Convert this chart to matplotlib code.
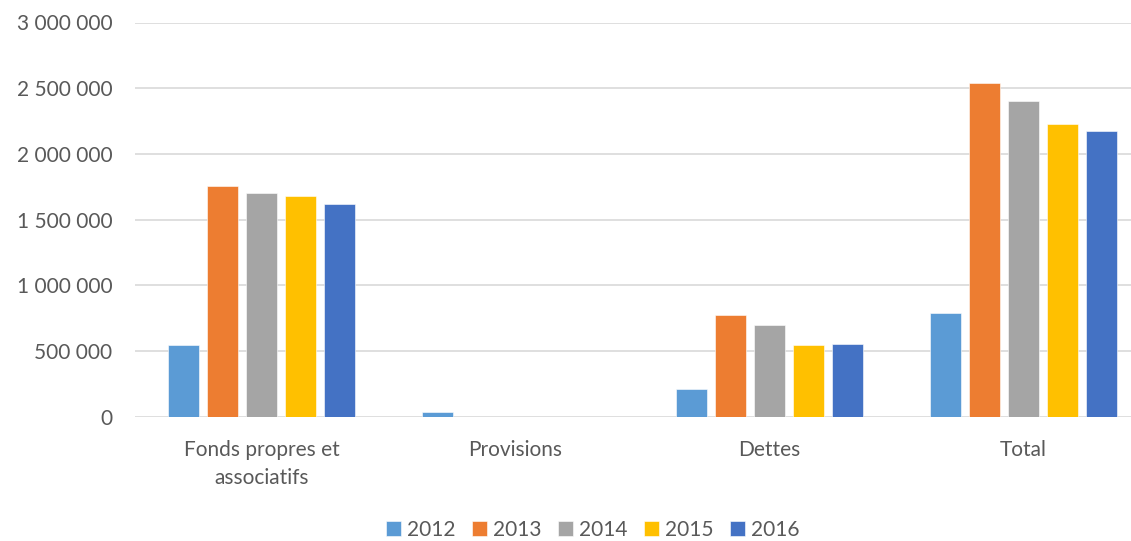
import numpy as np
import matplotlib.pyplot as plt
from matplotlib.ticker import FuncFormatter

# Data
categories = ["Fonds propres et\nassociatifs", "Provisions", "Dettes", "Total"]
years = ["2012", "2013", "2014", "2015", "2016"]
v2012 = [546000, 33000, 208000, 789000]
v2013 = [1758000, 0, 774000, 2537000]
v2014 = [1705000, 0, 695000, 2402000]
v2015 = [1677000, 0, 548000, 2227000]
v2016 = [1619000, 0, 555000, 2174000]
series = [v2012, v2013, v2014, v2015, v2016]
colors = ["#5B9BD5", "#ED7D31", "#A5A5A5", "#FFC000", "#4472C4"]

txt = "#595959"
plt.rcParams["font.family"] = ["Lato", "DejaVu Sans"]

fig = plt.figure(figsize=(11.31, 5.41), dpi=100)
ax = fig.add_axes([134.5 / 1131, 124.3 / 541, 1016 / 1131, 394.2 / 541])

x = np.arange(len(categories))
pitch = 0.1535
width = 0.122
for i, (vals, col, yr) in enumerate(zip(series, colors, years)):
    off = (i - 2) * pitch
    ax.bar(x + off, vals, width, color=col, label=yr, zorder=3,
           edgecolor="white", linewidth=0.4)

ax.set_xlim(-0.5, len(categories) - 0.5)
ax.set_ylim(0, 3000000)
ax.set_yticks(np.arange(0, 3000001, 500000))
ax.yaxis.set_major_formatter(FuncFormatter(lambda v, p: f"{int(v):,}".replace(",", " ")))
ax.set_xticks(x)
ax.set_xticklabels(categories, linespacing=1.5)

ax.grid(axis="y", color="#D9D9D9", linewidth=1.2, zorder=0)
for s in ax.spines.values():
    s.set_visible(False)
ax.tick_params(axis="y", length=0, pad=16, labelsize=15, labelcolor=txt)
ax.tick_params(axis="x", length=0, pad=17, labelsize=15, labelcolor=txt)

fig.legend(loc="center", bbox_to_anchor=(593 / 1131, 1 - 530 / 541), ncol=5,
           frameon=False, fontsize=15, labelcolor=txt, handlelength=0.7,
           handleheight=0.7, handletextpad=0.3, columnspacing=0.8)

fig.savefig("out.png", dpi=100)
